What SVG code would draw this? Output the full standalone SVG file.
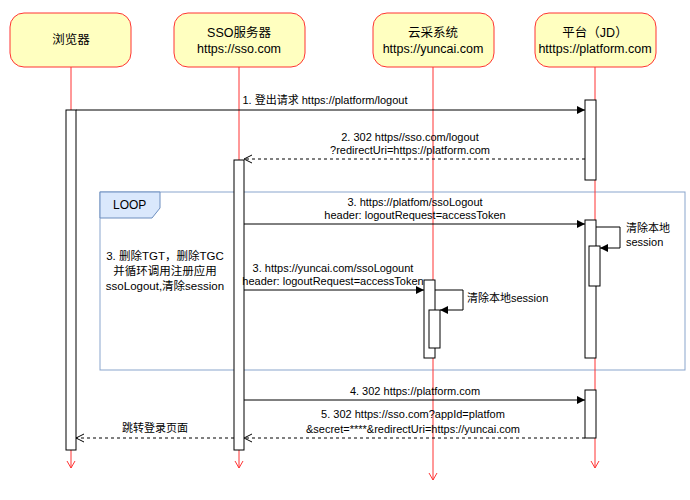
<svg xmlns="http://www.w3.org/2000/svg" width="690" height="500" viewBox="0 0 690 500">
<style>
text{font-family:"Liberation Sans","Noto Sans CJK SC",sans-serif;font-size:11px;fill:#000}
.hd{fill:#ffffc0;stroke:#ff3333;stroke-width:1}
.c{text-anchor:middle}
.h{font-size:12.5px}
.life{stroke:#ff3333;stroke-width:1;fill:none}
.act{fill:#fff;stroke:#000;stroke-width:1}
.m{stroke:#000;stroke-width:1;fill:none}
.d{stroke-dasharray:3,3}
</style>
<defs>
<marker id="fa" markerWidth="10" markerHeight="10" refX="9" refY="5" orient="auto" markerUnits="userSpaceOnUse"><path d="M1,1 L9,5 L1,9 Z" fill="#000"/></marker>
<marker id="oa" markerWidth="10" markerHeight="10" refX="9" refY="5" orient="auto" markerUnits="userSpaceOnUse"><path d="M1,1 L9,5 L1,9" fill="none" stroke="#000"/></marker>
</defs>
<g id="loop">
<rect x="100" y="192" width="585" height="178" fill="none" stroke="#6c8ebf" stroke-width="1" opacity="0.8"/>
<path d="M100,192 H160 V208 L152,218 H100 Z" fill="#dae8fc" stroke="#6c8ebf"/>
<text x="113" y="209" style="font-size:12px">LOOP</text>
</g>
<g id="browser">
<rect class="hd" x="10" y="13" width="121" height="54" rx="14"/>
<text class="c h" x="71" y="44">浏览器</text>
<line class="life" x1="71" y1="67" x2="71" y2="468"/>
<path class="life" d="M67,461 L71,468 L75,461"/>
<rect class="act" x="66" y="110" width="10" height="340"/>
</g>
<g id="sso">
<rect class="hd" x="174" y="13" width="131" height="54" rx="14"/>
<text class="c h" x="239" y="37">SSO服务器</text>
<text class="c h" x="239" y="53">https://sso.com</text>
<line class="life" x1="239" y1="67" x2="239" y2="468"/>
<path class="life" d="M235,461 L239,468 L243,461"/>
<rect class="act" x="234" y="160" width="10" height="290"/>
</g>
<g id="yuncai">
<rect class="hd" x="373" y="13" width="121" height="54" rx="14"/>
<text class="c h" x="433" y="37">云采系统</text>
<text class="c h" x="433" y="53">https://yuncai.com</text>
<line class="life" x1="433" y1="67" x2="433" y2="480"/>
<path class="life" d="M429,473 L433,480 L437,473"/>
<rect class="act" x="424" y="280" width="11" height="78"/>
<rect class="act" x="429" y="310" width="11" height="38"/>
</g>
<g id="platform">
<rect class="hd" x="535" y="13" width="121" height="54" rx="14"/>
<text class="c h" x="595" y="37">平台（JD）</text>
<text class="c h" x="595" y="53">htttps://platform.com</text>
<line class="life" x1="595" y1="67" x2="595" y2="468"/>
<path class="life" d="M591,461 L595,468 L599,461"/>
<rect class="act" x="585" y="100" width="11" height="80"/>
<rect class="act" x="585" y="220" width="11" height="138"/>
<rect class="act" x="589" y="246" width="11" height="40"/>
<rect class="act" x="585" y="390" width="11" height="48"/>
</g>
<g id="connectors">
<line class="m" x1="76" y1="110" x2="585" y2="110" marker-end="url(#fa)"/>
<text class="c" x="325" y="104">1. 登出请求 https://platform/logout</text>
<line class="m d" x1="585" y1="159" x2="244" y2="159" marker-end="url(#oa)"/>
<text class="c" x="410" y="141">2. 302 https//sso.com/logout</text>
<text class="c" x="410" y="154">?redirectUri=https://platform.com</text>
<line class="m" x1="244" y1="224" x2="585" y2="224" marker-end="url(#fa)"/>
<text class="c" x="415" y="206">3. https://platfom/ssoLogout</text>
<text class="c" x="415" y="219">header: logoutRequest=accessToken</text>
<path class="m" d="M596,227 H620 V248 H600" marker-end="url(#fa)"/>
<text x="626" y="232">清除本地</text>
<text x="626" y="246">session</text>
<text class="c" x="165" y="260" style="font-size:11.5px">3. 删除TGT，删除TGC</text>
<text class="c" x="165" y="275" style="font-size:11.5px">并循环调用注册应用</text>
<text class="c" x="165" y="290" style="font-size:11.5px">ssoLogout,清除session</text>
<line class="m" x1="244" y1="290" x2="424" y2="290" marker-end="url(#fa)"/>
<text class="c" x="333" y="272">3. https://yuncai.com/ssoLogount</text>
<text class="c" x="333" y="285">header: logoutRequest=accessToken</text>
<path class="m" d="M435,290 H463 V310 H440" marker-end="url(#fa)"/>
<text x="467" y="302">清除本地session</text>
<line class="m" x1="244" y1="400" x2="585" y2="400" marker-end="url(#fa)"/>
<text class="c" x="415" y="395">4. 302 https://platform.com</text>
<line class="m d" x1="585" y1="438" x2="244" y2="438" marker-end="url(#oa)"/>
<text class="c" x="413" y="418">5. 302  https://sso.com?appId=platfom</text>
<text class="c" x="413" y="433">&amp;secret=****&amp;redirectUri=https://yuncai.com</text>
<line class="m d" x1="234" y1="438" x2="76" y2="438" marker-end="url(#oa)"/>
<text class="c" x="155" y="432">跳转登录页面</text>
</g>
</svg>
